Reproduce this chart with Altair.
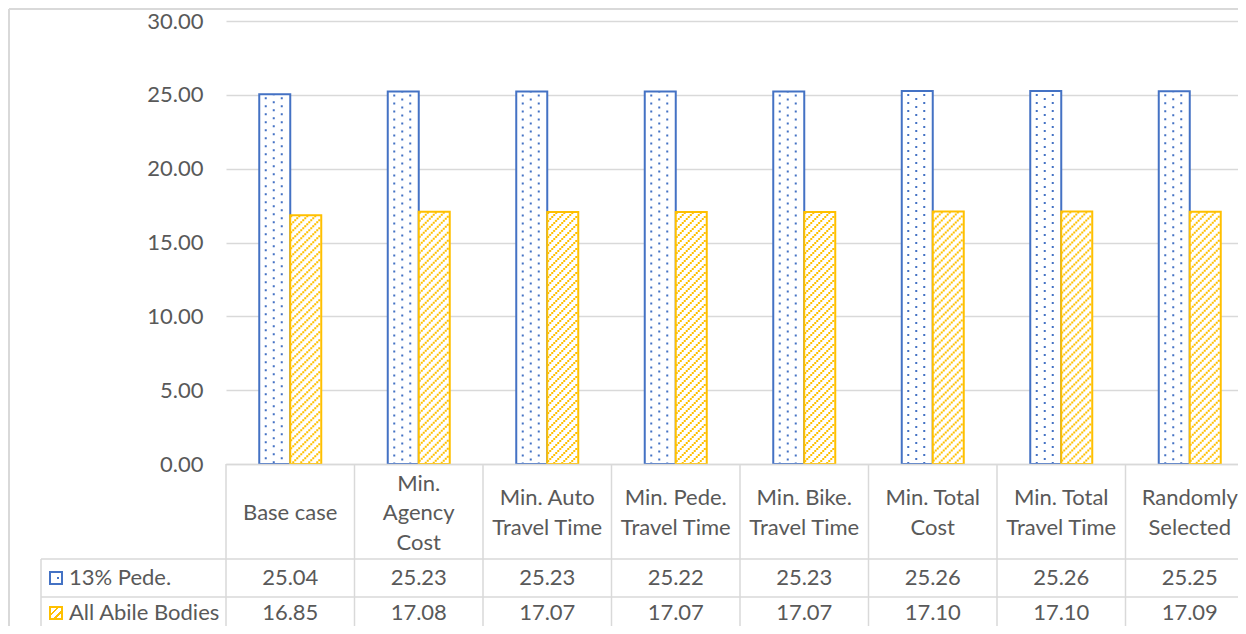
import altair as alt
import pandas as pd

# ---------------- data ----------------
categories = ["Base case", "Min. Agency Cost", "Min. Auto Travel Time",
              "Min. Pede. Travel Time", "Min. Bike. Travel Time",
              "Min. Total Cost", "Min. Total Travel Time", "Randomly Selected"]
header_labels = ["Base case", "Min.\nAgency\nCost", "Min. Auto\nTravel Time",
                 "Min. Pede.\nTravel Time", "Min. Bike.\nTravel Time",
                 "Min. Total\nCost", "Min. Total\nTravel Time", "Randomly\nSelected"]
pede = [25.04, 25.23, 25.23, 25.22, 25.23, 25.26, 25.26, 25.25]
abile = [16.85, 17.08, 17.07, 17.07, 17.07, 17.10, 17.10, 17.09]
series_names = ["13% Pede.", "All Abile Bodies"]
y_ticks = [0, 5, 10, 15, 20, 25, 30]

# ---------------- style ----------------
FONT = "Lato"
TXT = "#595959"
GRID = "#D9D9D9"
BLUE = "#4472C4"
GOLD = "#FFC000"
FS = 22

W, H = 1012, 443
BAND = 128.5
BAR = 31
BOTTOM = 605
ROW1_Y = 557
ROW2_Y = 592

df_p = pd.DataFrame({"cat": categories, "v": pede, "zero": [0] * 8})
df_a = pd.DataFrame({"cat": categories, "v": abile, "zero": [0] * 8})
df_h = pd.DataFrame({"cat": categories, "label": header_labels})
df_s = pd.DataFrame({"name": series_names})

xscale = alt.Scale(domain=categories, range=[0, BAND * len(categories)],
                   paddingInner=0, paddingOuter=0)
yscale = alt.Scale(domain=[0, 30], nice=False)
yaxis = alt.Axis(values=y_ticks, format=".2f", title=None, domain=False,
                 ticks=False, labelPadding=23, labelFontSize=FS,
                 labelFont=FONT, labelColor=TXT, gridColor=GRID, gridWidth=1.3)

X = alt.X("cat:N", scale=xscale, axis=None, sort=categories)
Y = alt.Y("v:Q", scale=yscale, axis=yaxis)


def hatch(w, h, period, stripe, color):
    r = w / h
    s = (r + 1) / (r * r + 1)
    L = w + h
    stops = []
    pos = 0.0
    while pos < L:
        a = pos / L
        b = min((pos + stripe) / L, 1)
        c = min((pos + period) / L, 1)
        stops += [{"offset": a, "color": color}, {"offset": b, "color": color},
                  {"offset": b, "color": "#ffffff"}, {"offset": c, "color": "#ffffff"}]
        pos += period
    return {"gradient": "linear", "x1": 0, "y1": 0, "x2": r * s, "y2": s, "stops": stops}


grad_key = hatch(13, 13, 8, 2.8, GOLD)

# bars
blue_bars = alt.Chart(df_p).mark_bar(
    width=BAR, xOffset=-15.5, fill="white", stroke=BLUE, strokeWidth=2
).encode(x=X, y=Y)

dot_layers = []
for off, dash_off in [(-24.5, 5), (-16.5, 1), (-8.5, 5)]:
    dot_layers.append(
        alt.Chart(df_p).mark_rule(
            xOffset=off, color=BLUE, strokeWidth=2, strokeDash=[2, 6],
            strokeDashOffset=dash_off, strokeCap="butt"
        ).encode(x=X, y=Y, y2="zero:Q")
    )

gold_bars = alt.Chart(df_a).mark_bar(
    width=BAR, xOffset=15.5, fill="white", stroke=GOLD, strokeWidth=2
).encode(x=X, y=Y)

hatch_layers = []
for j in range(15):
    hatch_layers.append(
        alt.Chart(df_a).mark_rule(
            xOffset=1 + 2 * j, color=GOLD, strokeWidth=2, strokeDash=[2, 6],
            strokeDashOffset=(2 * j) % 8, strokeCap="butt"
        ).encode(x=X, y=Y, y2="zero:Q")
    )

# table lines
vlines = alt.Chart(df_h).mark_rule(color=GRID, strokeWidth=1.5).encode(
    x=alt.X("cat:N", scale=xscale, axis=None, sort=categories, bandPosition=0),
    y=alt.value(443), y2=alt.value(BOTTOM))


def hrule(y, x0):
    return alt.Chart(df_s.head(1)).mark_rule(color=GRID, strokeWidth=1.5).encode(
        x=alt.value(x0), x2=alt.value(1040), y=alt.value(y))


h_top = hrule(443.5, 0)
h_1 = hrule(538, -185)
h_2 = hrule(576, -185)
v_left = alt.Chart(df_s.head(1)).mark_rule(color=GRID, strokeWidth=1.5).encode(
    x=alt.value(-185), y=alt.value(538), y2=alt.value(BOTTOM))

# outer chart border
b_left = alt.Chart(df_s.head(1)).mark_rule(color=GRID, strokeWidth=2).encode(
    x=alt.value(-217), y=alt.value(-12), y2=alt.value(BOTTOM))
b_top = alt.Chart(df_s.head(1)).mark_rule(color=GRID, strokeWidth=2).encode(
    x=alt.value(-217), x2=alt.value(1040), y=alt.value(-12))

# header text (category labels), one layer per number of lines
LH = 29.5
header_layers = []
for n in (1, 2, 3):
    header_layers.append(
        alt.Chart(df_h).transform_filter(
            f"length(split(datum.label, '\\n')) == {n}"
        ).mark_text(
            font=FONT, fontSize=FS, color=TXT, lineBreak="\n", lineHeight=LH,
            baseline="middle", align="center"
        ).encode(x=X, y=alt.value(492 - (n - 1) * LH / 2), text="label:N")
    )

row_p = alt.Chart(df_p).mark_text(
    font=FONT, fontSize=FS, color=TXT, baseline="middle", align="center"
).encode(x=X, y=alt.value(ROW1_Y), text=alt.Text("v:Q", format=".2f"))
row_a = alt.Chart(df_a).mark_text(
    font=FONT, fontSize=FS, color=TXT, baseline="middle", align="center"
).encode(x=X, y=alt.value(ROW2_Y), text=alt.Text("v:Q", format=".2f"))

name_p = alt.Chart(df_s.head(1)).mark_text(
    font=FONT, fontSize=FS, color=TXT, baseline="middle", align="left"
).encode(x=alt.value(-157), y=alt.value(ROW1_Y), text="name:N")
name_a = alt.Chart(df_s.tail(1)).mark_text(
    font=FONT, fontSize=FS, color=TXT, baseline="middle", align="left"
).encode(x=alt.value(-157), y=alt.value(ROW2_Y), text="name:N")

key_p = alt.Chart(df_s.head(1)).mark_rect(
    fill="white", stroke=BLUE, strokeWidth=2
).encode(x=alt.value(-176), x2=alt.value(-164),
         y=alt.value(ROW1_Y - 6), y2=alt.value(ROW1_Y + 6))
key_p_dot = alt.Chart(df_s.head(1)).mark_rect(fill=BLUE).encode(
    x=alt.value(-169), x2=alt.value(-167),
    y=alt.value(ROW1_Y - 1), y2=alt.value(ROW1_Y + 1))
key_a = alt.Chart(df_s.tail(1)).mark_rect(
    fill=grad_key, stroke=GOLD, strokeWidth=2
).encode(x=alt.value(-176), x2=alt.value(-164),
         y=alt.value(ROW2_Y - 6), y2=alt.value(ROW2_Y + 6))

chart = alt.layer(
    blue_bars, *dot_layers, gold_bars, *hatch_layers,
    vlines, h_top, h_1, h_2, v_left, b_left, b_top,
    *header_layers, row_p, row_a, name_p, name_a, key_p, key_p_dot, key_a
).properties(
    width=W, height=H,
    autosize=alt.AutoSizeParams(type="none"),
    padding={"left": 218, "top": 13, "right": 0, "bottom": BOTTOM - H},
    background="white",
).configure_view(stroke=None)

chart.save("out.html", embed_options={"renderer": "svg", "actions": False})
